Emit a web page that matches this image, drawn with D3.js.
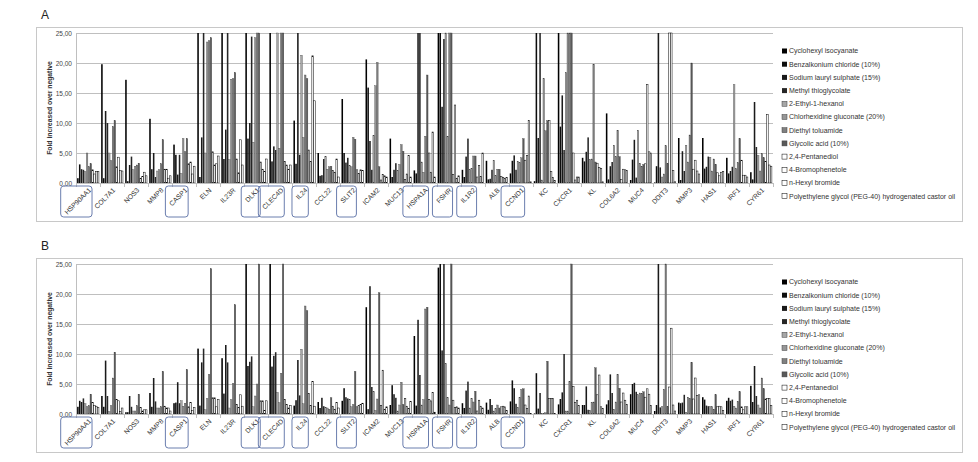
<!DOCTYPE html>
<html><head><meta charset="utf-8">
<script src="https://cdn.jsdelivr.net/npm/d3@7"></script>
<style>body{margin:0;background:#fff}svg{display:block;font-family:"Liberation Sans",Arial,sans-serif}</style>
</head><body><svg id="c" width="978" height="462"></svg>
<script>
const genes = ["HSP90AA1","COL7A1","NOS3","MMP8","CASP1","ELN","IL23R","DLK1","CLEC4D","IL24","CCL22","SLIT2","ICAM2","MUC13","HSPA1A","FSHR","IL1R2","ALB","CCND1","KC","CXCR1","KL","COL6A2","MUC4","DDIT3","MMP3","HAS1","IRF1","CYR61"];
const boxedGenes = ["HSP90AA1","CASP1","DLK1","CLEC4D","IL24","SLIT2","HSPA1A","FSHR","IL1R2","CCND1"];
const chemicals = ["Cyclohexyl isocyanate","Benzalkonium chloride (10%)","Sodium lauryl sulphate (15%)","Methyl thioglycolate","2-Ethyl-1-hexanol","Chlorhexidine gluconate (20%)","Diethyl toluamide","Glycolic acid (10%)","2,4-Pentanediol","4-Bromophenetole","n-Hexyl bromide","Polyethylene glycol (PEG-40) hydrogenated castor oil"];
const yTicks = [0,5,10,15,20,25];
// values per gene (rows) for each chemical (columns); values above 25 run off the axis
const valuesA = [
[0.8,3.1,2.3,2.2,1.9,5.0,2.7,3.2,2.2,1.5,1.9,1.9],
[19.8,0.8,12.0,10.0,5.0,3.7,9.4,10.4,2.7,4.3,2.1,2.0],
[17.2,0.3,3.0,4.4,2.2,2.8,3.0,3.3,0.8,1.1,1.8,1.2],
[10.7,2.3,5.0,1.0,2.0,2.2,3.2,7.2,2.3,2.3,0.8,1.2],
[6.4,4.7,1.4,4.7,1.6,7.4,5.2,7.4,3.2,3.5,1.5,2.8],
[30,1.0,7.6,30,5.0,23.5,23.7,24.2,5.2,3.0,3.2,4.5],
[30,4.0,8.9,30,3.9,17.3,17.4,18.4,4.0,1.7,7.2,3.0],
[30,7.4,10.0,24.4,6.8,24.2,30,30,3.5,2.3,1.9,4.0],
[30,3.6,6.1,5.5,30,5.8,30,30,3.6,3.0,2.3,3.0],
[10.4,3.2,30,4.7,21.3,7.6,18.0,17.4,5.5,3.6,21.2,13.7],
[5.0,1.2,1.3,4.0,4.4,2.3,2.7,2.8,2.1,1.8,4.0,1.0],
[14.0,5.0,3.4,4.2,2.9,2.7,7.6,7.3,2.2,1.6,2.2,2.1],
[20.6,15.9,7.0,2.2,7.9,16.2,20.1,2.7,0.5,1.4,1.2,1.0],
[7.4,1.0,2.2,3.3,2.1,3.1,6.4,5.3,0.6,1.5,4.6,1.0],
[2.1,1.6,30,30,3.5,1.8,7.8,18.0,5.0,1.8,8.5,1.0],
[30,30,12.7,24.0,30,7.8,30,30,1.4,13.0,0.8,1.2],
[2.2,1.0,4.4,7.4,2.2,2.4,4.5,4.5,1.0,2.9,1.1,5.0],
[3.7,0.6,0.7,2.2,3.8,1.2,2.3,2.3,1.1,0.9,0.8,0.9],
[1.6,3.7,4.6,2.2,3.6,3.4,4.2,7.4,3.8,4.6,10.4,0.2],
[0.3,30,7.5,30,0.5,17.4,8.7,10.4,10.4,1.9,0.9,0.4],
[30,9.4,14.6,5.5,18.4,30,30,30,5.0,0.5,1.0,1.0],
[4.2,3.6,5.2,7.6,3.9,4.0,19.8,3.5,3.3,2.6,2.4,0.2],
[11.6,0.6,2.8,3.5,6.3,4.4,8.8,4.4,0.6,2.3,2.2,2.1],
[0.5,3.9,7.2,0.9,8.8,3.3,2.8,3.1,3.2,16.4,5.2,5.0],
[0.1,2.8,30,2.6,1.0,1.5,6.2,3.2,30,30,2.1,0.2],
[7.5,0.5,5.3,2.0,6.3,3.5,8.0,20.0,2.3,3.8,2.0,1.5],
[7.5,2.4,2.7,4.4,4.3,2.0,4.0,3.1,1.7,1.2,1.8,1.9],
[4.2,1.6,2.0,2.7,16.4,2.4,3.4,7.4,3.8,1.3,1.3,1.0],
[1.8,0.6,13.5,6.0,4.6,2.0,4.9,4.2,3.6,11.4,3.0,2.8]
];
const valuesB = [
[1.2,2.2,2.0,2.6,1.7,1.2,1.4,3.3,1.9,1.4,1.3,1.1],
[3.0,1.2,8.9,3.0,0.4,1.4,6.0,10.3,2.4,2.2,0.4,1.0],
[0.3,0.3,3.0,1.2,0.5,0.5,1.4,3.3,1.1,0.5,0.7,0.7],
[3.5,1.2,6.0,2.1,1.0,1.0,1.2,7.1,1.3,1.0,1.0,0.5],
[1.8,1.9,5.3,1.8,2.2,1.3,1.8,7.4,1.2,1.9,0.6,1.1],
[10.9,1.4,8.6,10.9,0.7,2.6,6.6,24.2,2.7,2.7,1.2,2.4],
[9.3,3.4,11.5,8.6,1.0,2.4,5.1,18.2,1.6,1.1,3.2,1.3],
[30,8.0,8.7,9.6,1.2,3.0,5.0,30,2.2,2.2,0.6,2.2],
[30,7.9,9.7,10.3,3.6,1.9,6.8,30,2.4,1.6,1.0,1.4],
[1.4,2.3,9.0,3.1,10.8,1.7,18.0,17.2,3.4,1.4,5.4,1.3],
[2.0,1.0,2.7,1.3,1.1,1.0,0.8,2.7,1.3,0.8,1.9,1.0],
[2.2,4.3,2.8,2.6,2.4,1.2,1.6,7.1,1.2,1.4,1.6,1.8],
[17.8,0.8,21.3,4.5,3.7,0.6,2.5,20.2,1.4,7.3,0.8,1.2],
[1.5,4.8,3.3,2.7,0.5,1.5,5.3,1.6,2.6,1.3,0.9,2.1],
[13.0,1.4,15.7,6.5,1.5,2.4,17.5,17.8,2.4,2.2,3.6,0.3],
[24.4,30,10.6,30,8.4,2.7,1.5,30,2.3,1.1,1.2,1.0],
[1.8,1.0,3.9,5.4,1.0,2.6,2.0,3.8,0.5,2.3,1.3,1.0],
[1.9,0.7,2.5,1.5,0.5,0.9,1.5,1.0,1.2,1.3,1.2,0.6],
[2.1,5.6,4.3,1.7,1.1,2.8,4.1,4.2,1.5,0.9,3.0,0.1],
[0.1,6.8,0.9,3.5,0.1,0.1,0.2,8.8,2.6,2.6,2.6,0.1],
[1.6,2.5,3.6,10.0,0.5,0.5,5.4,30,4.6,1.9,2.3,1.4],
[1.5,1.5,4.6,0.7,0.6,1.9,2.0,7.7,3.2,6.5,1.2,0.9],
[1.6,2.3,6.6,3.5,0.8,2.0,6.6,4.3,2.0,3.5,2.3,1.6],
[3.3,5.0,5.2,3.7,3.2,3.5,3.4,3.7,2.8,4.2,3.3,1.4],
[0.5,1.5,30,1.1,1.2,4.1,30,1.2,4.5,14.3,1.5,0.5],
[1.9,1.8,1.9,3.2,0.3,2.8,2.6,8.6,2.5,6.0,3.1,3.2],
[2.8,2.4,1.4,1.3,1.2,1.2,0.8,3.2,1.2,1.3,1.2,0.6],
[2.2,2.7,2.2,2.4,1.3,1.0,2.1,3.7,1.2,0.7,1.2,1.2],
[4.7,2.0,8.0,3.0,1.5,1.0,6.0,4.2,2.5,2.6,2.6,1.4]
];
const fills = ["#000000","#0d0d0d","#1a1a1a","#262626","#a6a6a6","#969696","#808080","#595959","#ffffff","#ffffff","#ffffff","#ffffff"];
const strokes = ["none","none","none","none","#404040","#404040","#404040","#404040","#000000","#000000","#000000","#000000"];

const svg = d3.select("#c");
const panels = [{label:"A", top:27, values:valuesA},{label:"B", top:258, values:valuesB}];
const fmt = v => d3.format(".2f")(v).replace(".", ",");

panels.forEach(p => {
  const g = svg.append("g");
  const fTop = p.top, fLeft = 36, fRight = 962, fH = 194;
  g.append("rect").attr("x", fLeft+0.5).attr("y", fTop+0.5).attr("width", fRight-fLeft).attr("height", fH)
    .attr("fill","none").attr("stroke","#c8c8c8").attr("stroke-width",1);
  g.append("text").attr("x", 41).attr("y", fTop-8).attr("font-size", 12).attr("fill","#222").text(p.label);

  const plotTop = fTop + 6, plotBottom = fTop + 156;
  const y = d3.scaleLinear().domain([0,25]).range([plotBottom, plotTop]).clamp(true);
  const x0 = d3.scaleBand().domain(genes).range([76, 773]).paddingInner(0.08).paddingOuter(0.04);
  const x1 = d3.scaleBand().domain(d3.range(12)).range([0, x0.bandwidth()]).padding(0);

  // gridlines
  g.append("g").selectAll("line").data(yTicks.filter(t=>t>0)).join("line")
    .attr("x1",76).attr("x2",773).attr("y1",d=>Math.round(y(d))+0.5).attr("y2",d=>Math.round(y(d))+0.5)
    .attr("stroke","#bfbfbf").attr("stroke-width",1);
  // y axis
  const ya = g.append("g").attr("transform","translate(76,0)")
    .call(d3.axisLeft(y).tickValues(yTicks).tickFormat(fmt).tickSize(0).tickPadding(4));
  ya.select(".domain").attr("stroke","#bfbfbf");
  ya.selectAll("text").attr("font-size",6.5).attr("fill","#444");
  g.append("text").attr("transform",`translate(52,${(plotTop+plotBottom)/2}) rotate(-90)`)
    .attr("text-anchor","middle").attr("font-size",6.8).attr("font-weight","bold").attr("fill","#333")
    .text("Fold increased over negative");

  // bars
  const groups = g.append("g").selectAll("g").data(genes).join("g")
    .attr("transform", d => `translate(${x0(d)},0)`);
  groups.selectAll("rect").data((d,i) => p.values[i].map((v,k)=>({k,v}))).join("rect")
    .attr("x", d => x1(d.k)+0.15).attr("width", x1.bandwidth()-0.3)
    .attr("y", d => y(d.v)).attr("height", d => y(0)-y(d.v))
    .attr("fill", d => fills[d.k]).attr("stroke", d => strokes[d.k]).attr("stroke-width", d => d.k>=8?0.5:0.35);

  // x axis
  const xa = g.append("g").attr("transform",`translate(0,${plotBottom})`)
    .call(d3.axisBottom(x0).tickSize(0).tickFormat(""));
  xa.select(".domain").attr("stroke","#bfbfbf");
  g.append("g").selectAll("line").data(d3.range(genes.length+1)).join("line")
    .attr("x1", i => Math.round(76 + (773-76)*i/genes.length)+0.5).attr("x2", i => Math.round(76 + (773-76)*i/genes.length)+0.5)
    .attr("y1", plotBottom).attr("y2", plotBottom+4).attr("stroke","#bfbfbf");
  const labels = g.append("g").selectAll("g").data(genes).join("g")
    .attr("transform", d => `translate(${x0(d)+x0.bandwidth()/2+2},${plotBottom+6}) rotate(-45)`);
  labels.append("text").attr("text-anchor","end").attr("dy","0.35em").attr("font-size",6.8).attr("fill","#333").text(d=>d);
  // boxes
  labels.each(function(d){
    if (!boxedGenes.includes(d)) return;
    const len = d3.select(this).select("text").node().getComputedTextLength();
    const cx = x0(d)+x0.bandwidth()/2;
    const w = Math.max(15, len*0.707 + 7);
    g.append("rect").attr("x", cx+4-w).attr("y", plotBottom+3).attr("width", w).attr("height", 31)
      .attr("rx",3).attr("fill","none").attr("stroke","#5a6fa5").attr("stroke-width",0.9);
  });

  // legend
  const lg = g.append("g").selectAll("g").data(chemicals).join("g")
    .attr("transform",(d,i)=>`translate(782,${fTop+24+i*13.2})`);
  lg.append("rect").attr("x",0).attr("y",-2.5).attr("width",5).attr("height",5)
    .attr("fill",(d,i)=>fills[i]).attr("stroke",(d,i)=>i<4?"none":(i<8?"#404040":"#000")).attr("stroke-width",0.5);
  lg.append("text").attr("x",7).attr("dy","0.35em").attr("font-size",7).attr("fill","#333").text(d=>d);
});
</script></body></html>
